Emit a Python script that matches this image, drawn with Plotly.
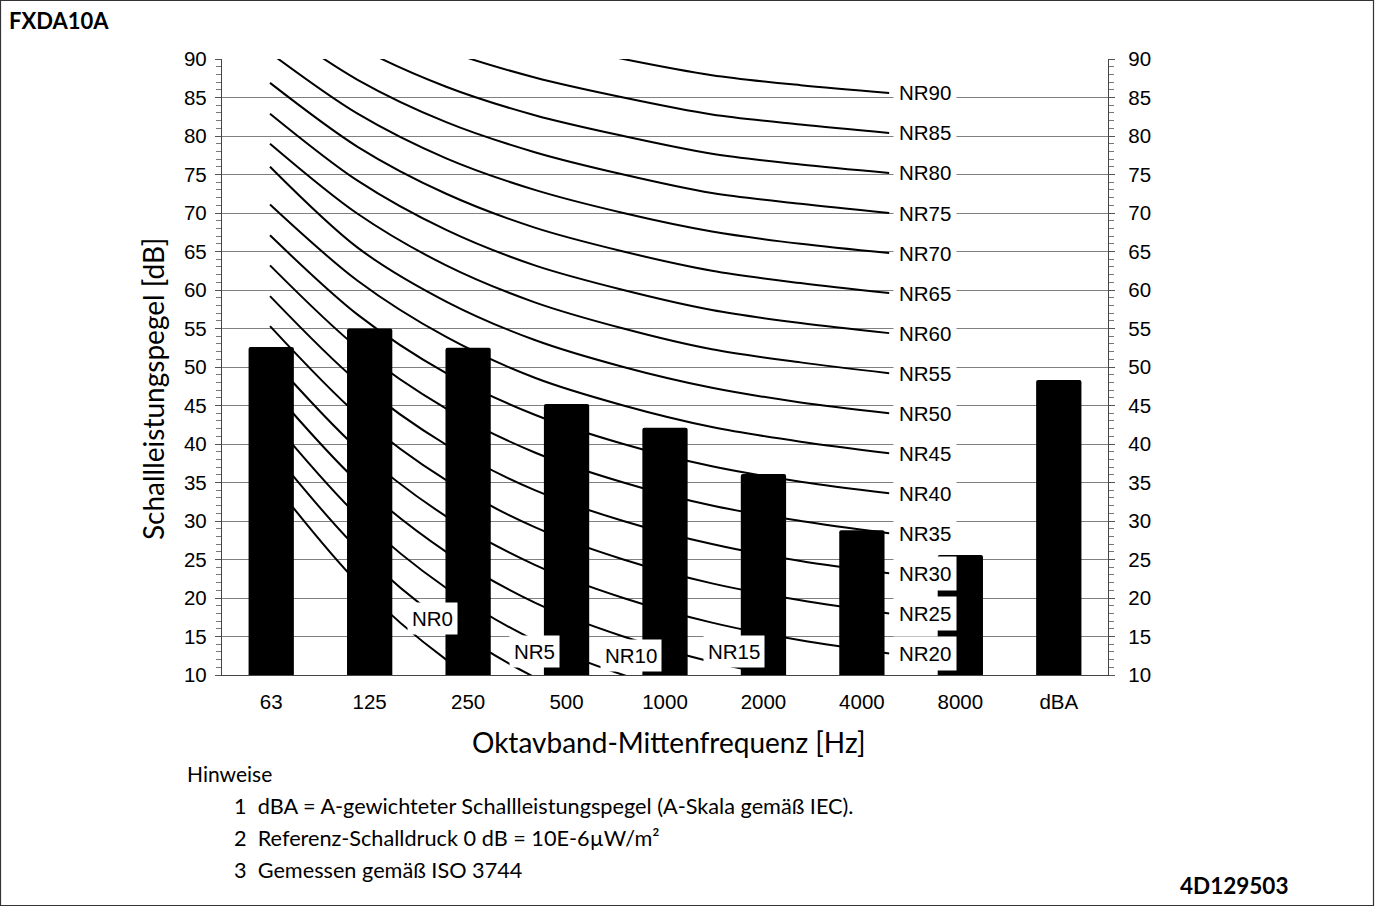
import math
import plotly.graph_objects as go

# ---------------- data ----------------
categories = ["63", "125", "250", "500", "1000", "2000", "4000", "8000", "dBA"]
sound_power = [52.6, 55.0, 52.5, 45.2, 42.1, 36.1, 28.8, 25.6, 48.3]

band_freqs = [63, 125, 250, 500, 1000, 2000, 4000, 8000]

nr_names = ["NR0", "NR5", "NR10", "NR15", "NR20", "NR25", "NR30", "NR35", "NR40",
            "NR45", "NR50", "NR55", "NR60", "NR65", "NR70", "NR75", "NR80", "NR85", "NR90"]
nr_levels = [
    [35.5, 22.0, 12.0, 4.8, 0.0, -3.5, -6.1, -8.0],
    [39.5, 26.4, 16.7, 9.7, 5.0, 1.6, -1.0, -2.8],
    [43.4, 30.7, 21.3, 14.5, 10.0, 6.7, 4.2, 2.4],
    [47.4, 35.1, 26.0, 19.4, 15.0, 11.7, 9.4, 7.6],
    [51.3, 39.4, 30.6, 24.3, 20.0, 16.8, 14.5, 12.8],
    [55.3, 43.8, 35.3, 29.2, 25.0, 21.9, 19.7, 18.0],
    [59.2, 48.1, 39.9, 34.0, 30.0, 27.0, 24.8, 23.2],
    [63.2, 52.5, 44.6, 38.9, 35.0, 32.0, 30.0, 28.4],
    [67.1, 56.8, 49.2, 43.8, 40.0, 37.1, 35.1, 33.6],
    [71.1, 61.2, 53.9, 48.6, 45.0, 42.2, 40.3, 38.8],
    [76.0, 65.5, 58.5, 53.5, 50.0, 47.3, 45.4, 44.0],
    [79.0, 69.9, 63.2, 58.4, 55.0, 52.3, 50.6, 49.2],
    [82.9, 74.2, 67.8, 63.2, 60.0, 57.4, 55.7, 54.4],
    [86.9, 78.6, 72.5, 68.1, 65.0, 62.5, 60.9, 59.6],
    [90.8, 82.9, 77.1, 73.0, 70.0, 67.6, 66.0, 64.8],
    [94.8, 87.3, 81.8, 77.9, 75.0, 72.6, 71.2, 70.0],
    [98.7, 91.6, 86.4, 82.7, 80.0, 77.7, 76.3, 75.2],
    [102.7, 96.0, 91.1, 87.6, 85.0, 82.8, 81.5, 80.4],
    [106.6, 100.3, 95.7, 92.5, 90.0, 87.9, 86.6, 85.6],
]
# labels of the low curves sit inside the chart (frequency, level of label centre)
inner_label_names = ["NR0", "NR5", "NR10", "NR15"]
inner_label_freq = [224, 497, 1061, 2376]
inner_label_level = [17.4, 13.0, 12.5, 13.1]

y_ticks = list(range(10, 91, 5))

notes_header = "Hinweise"
notes = [
    "1  dBA = A-gewichteter Schallleistungspegel (A-Skala gemäß IEC).",
    "2  Referenz-Schalldruck 0 dB = 10E-6µW/m²",
    "3  Gemessen gemäß ISO 3744",
]
title_text = "FXDA10A"
doc_code = "4D129503"
y_title = "Schallleistungspegel [dB]"
x_title = "Oktavband-Mittenfrequenz [Hz]"

# ---------------- layout geometry ----------------
W, H = 1375, 907
ML, MR, MT, MB = 222, 267, 59, 232
PW, PH = W - ML - MR, H - MT - MB


def px_x(px):
    return (px - ML) / PW


def px_y(py):
    return (H - MB - py) / PH


ARIAL = "Liberation Sans, Arial, sans-serif"
CALIBRI = "Lato, Open Sans, sans-serif"

fig = go.Figure()

# NR curves (behind the bars) on hidden log frequency axis
for name, lv in zip(nr_names, nr_levels):
    fig.add_trace(go.Scatter(
        x=band_freqs, y=lv, mode="lines", name=name,
        line=dict(color="black", width=2, shape="spline", smoothing=0.9),
        xaxis="x", yaxis="y", showlegend=False, hoverinfo="skip",
    ))

# bars on the category axis (overlay, drawn on top)
fig.add_trace(go.Bar(
    x=categories, y=sound_power, width=0.46,
    marker=dict(color="black", line=dict(width=0), cornerradius=2),
    xaxis="x2", yaxis="y2", showlegend=False,
))

LABEL_FONT = dict(family=ARIAL, size=20.5, color="black")
annotations = []
# NR labels at the 8000 Hz end of curves NR20..NR90
for name, lv in zip(nr_names, nr_levels):
    if name in inner_label_names:
        continue
    annotations.append(dict(
        x=math.log10(band_freqs[-1]), y=lv[-1], xref="x", yref="y",
        text=name, showarrow=False, xanchor="left", yanchor="middle", xshift=4,
        bgcolor="white", borderpad=5, font=LABEL_FONT,
    ))
for name, f, lvl in zip(inner_label_names, inner_label_freq, inner_label_level):
    annotations.append(dict(
        x=math.log10(f), y=lvl, xref="x", yref="y",
        text=name, showarrow=False, xanchor="center", yanchor="middle",
        bgcolor="white", borderpad=4, font=LABEL_FONT,
    ))

# titles and notes
annotations.append(dict(x=px_x(153), y=px_y(389), xref="paper", yref="paper", text=y_title,
                        textangle=-90, showarrow=False, xanchor="center", yanchor="middle",
                        font=dict(family=CALIBRI, size=28, color="black")))
annotations.append(dict(x=px_x(669), y=px_y(742), xref="paper", yref="paper", text=x_title,
                        showarrow=False, xanchor="center", yanchor="middle",
                        font=dict(family=CALIBRI, size=28, color="black")))
annotations.append(dict(x=px_x(7), y=px_y(21), xref="paper", yref="paper", text="<b>%s</b>" % title_text,
                        showarrow=False, xanchor="left", yanchor="middle",
                        font=dict(family=CALIBRI, size=22, color="black")))
annotations.append(dict(x=px_x(1290), y=px_y(885), xref="paper", yref="paper", text="<b>%s</b>" % doc_code,
                        showarrow=False, xanchor="right", yanchor="middle",
                        font=dict(family=CALIBRI, size=22.5, color="black")))
annotations.append(dict(x=px_x(185), y=px_y(773), xref="paper", yref="paper", text=notes_header,
                        showarrow=False, xanchor="left", yanchor="middle",
                        font=dict(family=CALIBRI, size=21, color="black")))
for i, t in enumerate(notes):
    annotations.append(dict(x=px_x(232), y=px_y(806 + 32 * i), xref="paper", yref="paper", text=t,
                            showarrow=False, xanchor="left", yanchor="middle",
                            font=dict(family=CALIBRI, size=21.7, color="black")))

shapes = [dict(type="rect", xref="paper", yref="paper",
               x0=px_x(0.5), x1=px_x(W - 1.5), y0=px_y(H - 1.5), y1=px_y(0.5),
               line=dict(color="#333333", width=1.2), fillcolor="rgba(0,0,0,0)", layer="below")]

tickfont = dict(family=ARIAL, size=20.5, color="black")

fig.update_layout(
    width=W, height=H,
    margin=dict(l=ML, r=MR, t=MT, b=MB, pad=0),
    paper_bgcolor="white", plot_bgcolor="white",
    xaxis=dict(type="log", range=[1.6362, 4.6467], visible=False, fixedrange=True),
    xaxis2=dict(type="category", overlaying="x", side="bottom", range=[-0.5, 8.5],
                showline=True, linecolor="#444444", linewidth=1.3, ticks="",
                tickfont=tickfont, showgrid=False, zeroline=False, ticklabelstandoff=8),
    yaxis=dict(range=[10, 90], tickvals=y_ticks, showgrid=True, gridcolor="#808080", gridwidth=1,
               showline=True, linecolor="#444444", linewidth=1.3, ticks="outside", ticklen=6,
               tickcolor="#555555", tickwidth=1, mirror="allticks", zeroline=False,
               minor=dict(dtick=1, ticks="outside", ticklen=5, tickcolor="#777777", showgrid=False),
               tickfont=tickfont, ticklabelstandoff=4),
    yaxis2=dict(range=[10, 90], tickvals=y_ticks, overlaying="y", side="right", showgrid=False,
                showline=True, linecolor="#444444", linewidth=1.3, ticks="outside", ticklen=5,
                tickcolor="#555555", zeroline=False,
                minor=dict(dtick=1, ticks="outside", ticklen=5, tickcolor="#777777", showgrid=False),
                tickfont=tickfont, ticklabelstandoff=10),
    annotations=annotations,
    shapes=shapes,
)

fig.write_html("out.html", config={"displayModeBar": False},
               post_script="document.body.style.margin='0';document.body.style.overflow='hidden';")
